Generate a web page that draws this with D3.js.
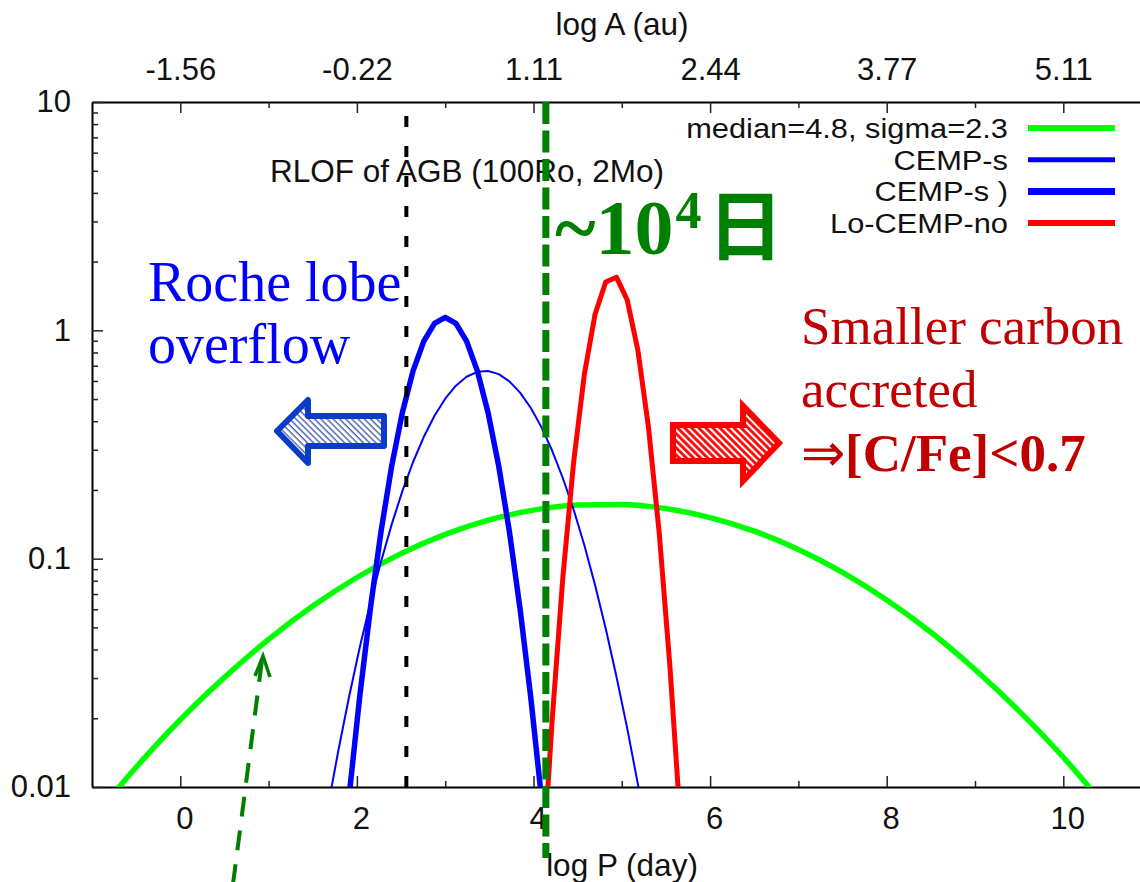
<!DOCTYPE html>
<html>
<head>
<meta charset="utf-8">
<script src="https://cdn.jsdelivr.net/npm/d3@7"></script>
<style>
  body { margin: 0; background: #fff; }
  svg { display: block; }
  .tick text { font-family: "Liberation Sans", Arial, sans-serif; font-size: 31px; fill: #111; }
  .tick line { stroke: #222; stroke-width: 1.5; }
  .domain { stroke: #000; stroke-width: 2; }
</style>
</head>
<body>
<div class="chart"></div>
<script>
// chart size
var svgWidth = 1140;
var svgHeight = 882;

// plot box (right edge runs off the picture, as in the original)
var plot = { left: 92, top: 102, bottom: 787, right: 1151.6 };

// ---- data ----
// bottom axis: log P (day), top axis: log A (au) at the same ticks
var majorP = [0, 2, 4, 6, 8, 10];
var minorP = [1, 3, 5, 7, 9];
var topLabels = ["-1.56", "-0.22", "1.11", "2.44", "3.77", "5.11"];
var yMajor = [0.01, 0.1, 1, 10];
var yLabels = ["0.01", "0.1", "1", "10"];

// median=4.8, sigma=2.3
var greenP = [-1, -0.5, 0, 0.5, 1, 1.5, 2, 2.5, 3, 3.5, 4, 4.5, 5, 5.5, 6, 6.5, 7, 7.5, 8, 8.5, 9, 9.5, 10, 10.5, 11];
var greenY = [0.0072, 0.0122, 0.0197, 0.0302, 0.0443, 0.062, 0.0827, 0.1052, 0.1277, 0.1478, 0.1632, 0.1719,
              0.1728, 0.1656, 0.1513, 0.132, 0.1098, 0.0871, 0.0659, 0.0476, 0.0327, 0.0215, 0.0135, 0.008, 0.0046];

// CEMP-s (thin)
var thinP = [1.545, 1.667, 1.788, 1.909, 2.030, 2.152, 2.273, 2.394, 2.515, 2.636, 2.758, 2.879, 3.0, 3.121, 3.242, 3.364,
             3.485, 3.606, 3.727, 3.848, 3.970, 4.091, 4.212, 4.333, 4.455, 4.576, 4.697, 4.818, 4.939, 5.061, 5.182, 5.303];
var thinY = [0.0043, 0.008, 0.0143, 0.0246, 0.0405, 0.0639, 0.097, 0.1413, 0.1975, 0.2651, 0.3417, 0.4226, 0.5019, 0.5722, 0.6263, 0.6581,
             0.6638, 0.6428, 0.5976, 0.5333, 0.4569, 0.3758, 0.2968, 0.225, 0.1637, 0.1144, 0.0767, 0.0494, 0.0305, 0.0181, 0.0103, 0.0056];

// CEMP-s ) (thick)
var thickP = [1.788, 1.909, 2.030, 2.152, 2.273, 2.394, 2.515, 2.636, 2.758, 2.879, 3.0, 3.121, 3.242, 3.364, 3.485, 3.606, 3.727, 3.848, 3.970, 4.091, 4.212];
var thickY = [0.0028, 0.0089, 0.0245, 0.0603, 0.1315, 0.2546, 0.4367, 0.6644, 0.8967, 1.0735, 1.1398,
              1.0735, 0.8967, 0.6644, 0.4367, 0.2546, 0.1315, 0.0603, 0.0245, 0.0089, 0.0028];

// Lo-CEMP-no
var redP = [4.091, 4.212, 4.333, 4.455, 4.576, 4.697, 4.818, 4.939, 5.061, 5.182, 5.303, 5.424, 5.545, 5.667];
var redY = [0.0036, 0.0198, 0.0833, 0.2658, 0.6423, 1.175, 1.6283, 1.7093, 1.3594, 0.8189, 0.3737, 0.1292, 0.0338, 0.0067];

// vertical markers
var rlofP = 2.56;   // RLOF of AGB
var limitP = 4.14;  // ~10^4 days

var legendLabels = ["median=4.8, sigma=2.3", "CEMP-s", "CEMP-s )", "Lo-CEMP-no"];

// styles for each series
var series = [
  { p: greenP, y: greenY, color: "#00ff00", width: 5.5, legendWidth: 6, curve: d3.curveMonotoneX },
  { p: thinP, y: thinY, color: "#0000ff", width: 2, legendWidth: 5, curve: d3.curveLinear },
  { p: thickP, y: thickY, color: "#0000ff", width: 5.5, legendWidth: 7, curve: d3.curveLinear },
  { p: redP, y: redY, color: "#ff0000", width: 5, legendWidth: 6, curve: d3.curveLinear }
];

var sans = "'Liberation Sans', Arial, sans-serif";
var serif = "'Liberation Serif', 'Times New Roman', serif";

var svg = d3.select(".chart")
  .append("svg")
  .attr("width", svgWidth)
  .attr("height", svgHeight);

var defs = svg.append("defs");

defs.append("clipPath").attr("id", "plotClip")
  .append("rect")
  .attr("x", plot.left).attr("y", plot.top)
  .attr("width", plot.right - plot.left).attr("height", plot.bottom - plot.top);

// hatch fills for the block arrows
var hb = defs.append("pattern").attr("id", "hatchBlue")
  .attr("patternUnits", "userSpaceOnUse").attr("width", 4.4).attr("height", 4.4)
  .attr("patternTransform", "rotate(-45)");
hb.append("rect").attr("width", 4.4).attr("height", 4.4).attr("fill", "#fff");
hb.append("line").attr("x1", 1).attr("y1", 0).attr("x2", 1).attr("y2", 4.4)
  .attr("stroke", "#4a5fae").attr("stroke-width", 1.4);

var hr = defs.append("pattern").attr("id", "hatchRed")
  .attr("patternUnits", "userSpaceOnUse").attr("width", 5).attr("height", 5)
  .attr("patternTransform", "rotate(-45)");
hr.append("rect").attr("width", 5).attr("height", 5).attr("fill", "#fff");
hr.append("line").attr("x1", 1.5).attr("y1", 0).attr("x2", 1.5).attr("y2", 5)
  .attr("stroke", "#ff0000").attr("stroke-width", 2.8);

// scales
var xScale = d3.scaleLinear().domain([-1, 11]).range([plot.left, plot.right]);
var yScale = d3.scaleLog().domain([0.01, 10]).range([plot.bottom, plot.top]);

// ---- axes (ticks point into the plot) ----
var bottomAxis = d3.axisBottom(xScale)
  .tickValues(majorP).tickFormat(d3.format("d"))
  .tickSizeInner(-11).tickSizeOuter(0).tickPadding(20);
var xAxis = svg.append("g")
  .attr("transform", `translate(0, ${plot.bottom})`)
  .call(bottomAxis);
xAxis.selectAll(".tick text").attr("dx", 4);

svg.append("g")
  .attr("transform", `translate(0, ${plot.bottom})`)
  .call(d3.axisBottom(xScale).tickValues(minorP).tickFormat("").tickSizeInner(-6).tickSizeOuter(0))
  .select(".domain").remove();

var topAxis = d3.axisTop(xScale)
  .tickValues(majorP).tickFormat((d, i) => topLabels[i])
  .tickSizeInner(-11).tickSizeOuter(0).tickPadding(22);
svg.append("g")
  .attr("transform", `translate(0, ${plot.top})`)
  .call(topAxis);

svg.append("g")
  .attr("transform", `translate(0, ${plot.top})`)
  .call(d3.axisTop(xScale).tickValues(minorP).tickFormat("").tickSizeInner(-6).tickSizeOuter(0))
  .select(".domain").remove();

var leftAxis = d3.axisLeft(yScale)
  .tickValues(yMajor).tickFormat((d, i) => yLabels[i])
  .tickSizeInner(-11).tickSizeOuter(0).tickPadding(21);
svg.append("g")
  .attr("transform", `translate(${plot.left}, 0)`)
  .call(leftAxis);

// log minor ticks 2..9 in each decade
var yMinor = [];
[0.01, 0.1, 1].forEach(function(dec) {
  for (var m = 2; m <= 9; m++) yMinor.push(dec * m);
});
svg.append("g")
  .attr("transform", `translate(${plot.left}, 0)`)
  .call(d3.axisLeft(yScale).tickValues(yMinor).tickFormat("").tickSizeInner(-6).tickSizeOuter(0))
  .select(".domain").remove();

// right edge of the box (falls just outside the picture)
svg.append("line")
  .attr("x1", plot.right).attr("x2", plot.right)
  .attr("y1", plot.top).attr("y2", plot.bottom)
  .attr("stroke", "#000").attr("stroke-width", 2);

// axis titles
svg.append("text")
  .attr("x", 622).attr("y", 35)
  .attr("text-anchor", "middle")
  .style("font-family", sans).style("font-size", "31.5px")
  .attr("fill", "#111")
  .text("log A (au)");

svg.append("text")
  .attr("x", 622).attr("y", 876)
  .attr("text-anchor", "middle")
  .style("font-family", sans).style("font-size", "31.5px")
  .attr("fill", "#111")
  .text("log P (day)");

// ---- curves ----
var curveGroup = svg.append("g").attr("clip-path", "url(#plotClip)");

series.forEach(function(s) {
  var pts = s.p.map((p, i) => [p, s.y[i]]);
  var line = d3.line()
    .x(d => xScale(d[0]))
    .y(d => yScale(d[1]))
    .curve(s.curve);
  curveGroup.append("path")
    .datum(pts)
    .attr("d", line)
    .attr("fill", "none")
    .attr("stroke", s.color)
    .attr("stroke-width", s.width)
    .attr("stroke-linejoin", "round");
});

// ---- legend ----
// rows are packed as tightly as in the original; slightly narrower font keeps them apart
var legend = svg.append("g");
legendLabels.forEach(function(lab, i) {
  var yy = 128 + i * 31.7;
  legend.append("text")
    .attr("x", 1008).attr("y", yy)
    .attr("dy", "0.36em")
    .attr("text-anchor", "end")
    .style("font-family", sans).style("font-size", "28px")
    .attr("textLength", null)
    .attr("fill", "#111")
    .attr("transform", `translate(1008, 0) scale(1.1, 1) translate(-1008, 0)`)
    .text(lab);
  legend.append("line")
    .attr("x1", 1028).attr("x2", 1115)
    .attr("y1", yy).attr("y2", yy)
    .attr("stroke", series[i].color)
    .attr("stroke-width", series[i].legendWidth);
});

// RLOF label
svg.append("text")
  .attr("x", 270).attr("y", 182)
  .style("font-family", sans).style("font-size", "31.5px")
  .attr("fill", "#111")
  .text("RLOF of AGB (100Ro, 2Mo)");

// ---- vertical dashed markers ----
svg.append("line")
  .attr("x1", xScale(rlofP)).attr("x2", xScale(rlofP))
  .attr("y1", 116).attr("y2", plot.bottom)
  .attr("stroke", "#000").attr("stroke-width", 4)
  .attr("stroke-dasharray", "11,19");

svg.append("line")
  .attr("x1", xScale(limitP)).attr("x2", xScale(limitP))
  .attr("y1", plot.top).attr("y2", 858)
  .attr("stroke", "#008000").attr("stroke-width", 7)
  .attr("stroke-dasharray", "22,6.5");

// ---- annotations ----
var big = svg.append("text")
  .attr("x", 555).attr("y", 254)
  .attr("fill", "#008000")
  .style("font-family", serif)
  .style("font-weight", "bold");
big.append("tspan").style("font-size", "78px").text("~10");
big.append("tspan").style("font-size", "52px").attr("dx", 2).attr("dy", -26).text("4");
big.append("tspan").style("font-size", "76px").attr("dx", 6).attr("dy", 26)
  .style("font-family", "'Noto Sans CJK JP', 'Noto Sans CJK SC', sans-serif")
  .text("日");

svg.append("text").attr("x", 148).attr("y", 301)
  .attr("fill", "#0000ff").style("font-family", serif).style("font-size", "56px")
  .text("Roche lobe");
svg.append("text").attr("x", 148).attr("y", 363)
  .attr("fill", "#0000ff").style("font-family", serif).style("font-size", "56px")
  .text("overflow");

svg.append("text").attr("x", 801).attr("y", 344)
  .attr("fill", "#c00000").style("font-family", serif).style("font-size", "53px")
  .text("Smaller carbon");
svg.append("text").attr("x", 801).attr("y", 407)
  .attr("fill", "#c00000").style("font-family", serif).style("font-size", "53px")
  .text("accreted");
var cfe = svg.append("text").attr("x", 801).attr("y", 471)
  .attr("fill", "#c00000").style("font-family", serif).style("font-size", "53px");
cfe.append("tspan").text("⇒");
cfe.append("tspan").style("font-weight", "bold").text("[C/Fe]<0.7");

// blue block arrow (pointing left)
svg.append("path")
  .attr("d", "M277,431 L308,400 L308,416 L384,416 L384,446 L308,446 L308,463 Z")
  .attr("fill", "url(#hatchBlue)")
  .attr("stroke", "#0b3cc9").attr("stroke-width", 6)
  .attr("stroke-linejoin", "round");

// red block arrow (pointing right)
svg.append("path")
  .attr("d", "M673,425 L743,425 L743,406 L779,443 L743,481 L743,461 L673,461 Z")
  .attr("fill", "url(#hatchRed)")
  .attr("stroke", "#ff0000").attr("stroke-width", 6)
  .attr("stroke-linejoin", "miter");

// dashed green pointer to the broad distribution
svg.append("line")
  .attr("x1", 233).attr("y1", 884)
  .attr("x2", 262).attr("y2", 660)
  .attr("stroke", "#008000").attr("stroke-width", 4)
  .attr("stroke-dasharray", "20,14");
svg.append("path")
  .attr("d", "M255,676 L263,656 L270,677")
  .attr("fill", "none")
  .attr("stroke", "#008000").attr("stroke-width", 3.5)
  .attr("stroke-linejoin", "miter");
</script>
</body>
</html>
